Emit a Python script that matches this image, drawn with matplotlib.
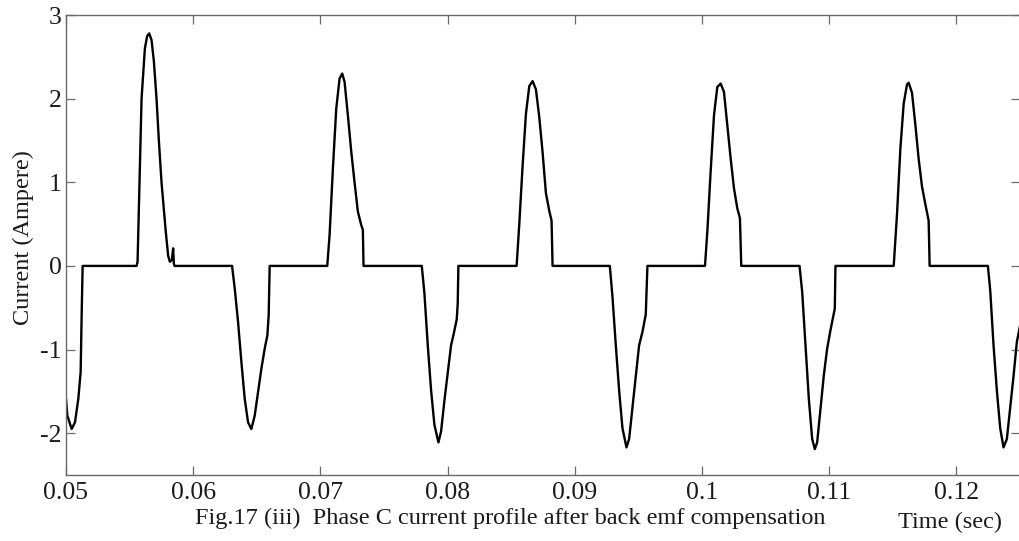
import matplotlib
matplotlib.use("Agg")
import matplotlib.pyplot as plt

plt.rcParams['font.family'] = ['Liberation Serif', 'DejaVu Serif']
plt.rcParams['axes.unicode_minus'] = False

time_s = [
    0.050000, 0.050105, 0.050445, 0.050706, 0.050968, 0.051151, 0.051230, 0.051308,
    0.055547, 0.055626, 0.055783, 0.055940, 0.056201, 0.056384, 0.056541, 0.056724,
    0.056907, 0.057116, 0.057300, 0.057509, 0.057849, 0.058033, 0.058163, 0.058320,
    0.058425, 0.058477, 0.058530,
    0.063056, 0.063265, 0.063527, 0.063789, 0.064050, 0.064312, 0.064574, 0.064835,
    0.065097, 0.065359, 0.065620, 0.065830, 0.065934, 0.066013,
    0.070539, 0.070722, 0.070984, 0.071246, 0.071507, 0.071716, 0.071900, 0.072161,
    0.072423, 0.072684, 0.072946, 0.073208, 0.073338, 0.073391,
    0.077970, 0.078179, 0.078441, 0.078703, 0.078964, 0.079278, 0.079487, 0.079749,
    0.080010, 0.080272, 0.080455, 0.080717, 0.080795, 0.080848,
    0.085426, 0.085636, 0.085897, 0.086159, 0.086421, 0.086682, 0.086944, 0.087206,
    0.087467, 0.087729, 0.087991, 0.088174, 0.088252,
    0.092753, 0.092962, 0.093224, 0.093485, 0.093747, 0.094061, 0.094270, 0.094532,
    0.094794, 0.095055, 0.095317, 0.095579, 0.095709,
    0.100235, 0.100419, 0.100680, 0.100942, 0.101204, 0.101466, 0.101727, 0.101989,
    0.102250, 0.102512, 0.102773, 0.102983, 0.103087,
    0.107667, 0.107876, 0.108137, 0.108399, 0.108661, 0.108870, 0.109053, 0.109315,
    0.109576, 0.109838, 0.110099, 0.110361, 0.110440, 0.110492,
    0.115071, 0.115332, 0.115594, 0.115856, 0.116117, 0.116248, 0.116510, 0.116772,
    0.117033, 0.117295, 0.117556, 0.117818, 0.117896,
    0.122475, 0.122658, 0.122920, 0.123181, 0.123443, 0.123705, 0.123967, 0.124228,
    0.124490, 0.124752, 0.125000,
]

current_a = [
    -1.59, -1.79, -1.95, -1.87, -1.59, -1.27, -0.59, 0.0,
    0.0, 0.05, 1.0, 2.0, 2.6, 2.75, 2.78, 2.70,
    2.45, 2.0, 1.5, 1.0, 0.4, 0.12, 0.05, 0.07,
    0.21, 0.03, 0.0,
    0.0, -0.27, -0.67, -1.15, -1.59, -1.87, -1.95, -1.79,
    -1.51, -1.23, -0.99, -0.83, -0.59, 0.0,
    0.0, 0.37, 1.17, 1.88, 2.24, 2.30, 2.20, 1.80,
    1.37, 1.00, 0.65, 0.49, 0.43, 0.0,
    0.0, -0.33, -0.95, -1.49, -1.90, -2.11, -1.98, -1.61,
    -1.28, -0.95, -0.83, -0.64, -0.45, 0.0,
    0.0, 0.50, 1.20, 1.82, 2.15, 2.21, 2.11, 1.78,
    1.36, 0.87, 0.66, 0.54, 0.0,
    0.0, -0.37, -0.95, -1.49, -1.94, -2.17, -2.07, -1.69,
    -1.32, -0.95, -0.79, -0.58, 0.0,
    0.0, 0.41, 1.13, 1.80, 2.14, 2.18, 2.08, 1.68,
    1.29, 0.93, 0.69, 0.57, 0.0,
    0.0, -0.31, -0.95, -1.59, -2.07, -2.19, -2.11, -1.71,
    -1.31, -0.99, -0.77, -0.57, -0.51, 0.0,
    0.0, 0.62, 1.40, 1.94, 2.17, 2.19, 2.07, 1.69,
    1.28, 0.95, 0.74, 0.54, 0.0,
    0.0, -0.29, -0.95, -1.49, -1.94, -2.17, -2.07, -1.69,
    -1.32, -0.91, -0.72,
]

x_ticks = [0.05, 0.06, 0.07, 0.08, 0.09, 0.10, 0.11, 0.12]
x_tick_labels = ['0.05', '0.06', '0.07', '0.08', '0.09', '0.1', '0.11', '0.12']
y_ticks = [-2, -1, 0, 1, 2, 3]
y_tick_labels = ['-2', '-1', '0', '1', '2', '3']

W, H = 1020, 541
fig = plt.figure(figsize=(W / 100, H / 100), dpi=100)
ax = fig.add_axes([66 / W, 1 - 475 / H, 954 / W, 460 / H])

ax.plot(time_s, current_a, color='black', linewidth=1.7, solid_joinstyle='round')

ax.set_xlim(0.05, 0.125)
ax.set_ylim(-2.5, 3)
ax.set_xticks(x_ticks)
ax.set_xticklabels(x_tick_labels)
ax.set_yticks(y_ticks)
ax.set_yticklabels(y_tick_labels)

spine_col = '#6a6a6a'
for s in ax.spines.values():
    s.set_color(spine_col)
    s.set_linewidth(1.0)
ax.tick_params(direction='in', length=6.5, width=0.9, color=spine_col,
               top=True, right=True, labelsize=18.5, labelcolor='#1a1a1a')
ax.tick_params(axis='x', pad=5)
ax.tick_params(axis='y', pad=3)

fig.text(23 / W, 1 - 238 / H, 'Current (Ampere)', rotation=90, ha='center', va='center',
         fontsize=17.5, color='#1a1a1a')
fig.text(510 / W, 1 - 518 / H, 'Fig.17 (iii)  Phase C current profile after back emf compensation',
         ha='center', va='center', fontsize=17.5, color='#1a1a1a')
fig.text(950 / W, 1 - 522 / H, 'Time (sec)', ha='center', va='center',
         fontsize=17.5, color='#1a1a1a')

fig.savefig('out.png', dpi=100)
